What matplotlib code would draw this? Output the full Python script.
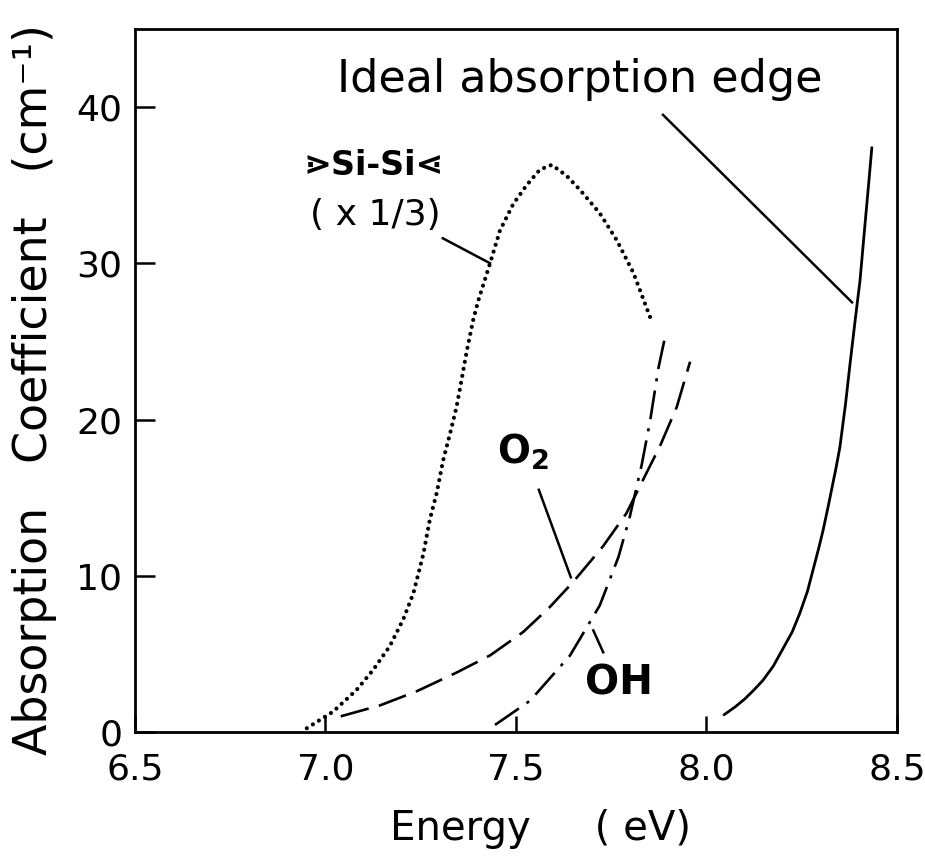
import matplotlib
matplotlib.use("Agg")
import matplotlib.pyplot as plt

plt.rcParams['font.family'] = ['DejaVu Sans']
plt.rcParams['mathtext.fontset'] = 'dejavusans'

# ideal absorption edge (solid)
edge_E = [8.046, 8.075, 8.10, 8.125, 8.148, 8.175, 8.20, 8.225, 8.245, 8.265, 8.28,
          8.295, 8.306, 8.32, 8.33, 8.34, 8.35, 8.365, 8.377, 8.39, 8.403, 8.415,
          8.425, 8.434]
edge_A = [1.1, 1.6, 2.1, 2.7, 3.3, 4.2, 5.3, 6.4, 7.6, 9.0, 10.4,
          11.8, 12.9, 14.5, 15.7, 16.9, 18.2, 21.0, 23.6, 26.3, 28.9, 32.2,
          34.9, 37.4]

# Si-Si band (x1/3), dotted
sisi_E = [6.951, 7.020, 7.082, 7.126, 7.169, 7.204, 7.231, 7.257, 7.274, 7.292,
          7.309, 7.327, 7.344, 7.357, 7.371, 7.388, 7.401, 7.432, 7.458, 7.493,
          7.528, 7.563, 7.594, 7.633, 7.668, 7.720, 7.764, 7.808, 7.856]
sisi_A = [0.24, 1.3, 2.7, 4.0, 5.5, 7.2, 8.9, 11.4, 13.6, 15.3,
          17.4, 19.1, 20.8, 22.5, 24.4, 26.4, 27.6, 30.0, 32.1, 33.8,
          35.0, 36.0, 36.3, 35.6, 34.7, 33.2, 31.5, 29.4, 26.3]

# O2 band, dashed
o2_E = [7.040, 7.143, 7.239, 7.344, 7.432, 7.519, 7.589, 7.650, 7.729, 7.790,
        7.843, 7.878, 7.922, 7.957]
o2_A = [1.0, 1.7, 2.6, 3.8, 4.9, 6.4, 8.0, 9.6, 11.9, 14.0,
        16.6, 18.3, 20.8, 23.7]

# OH band, dash-dot
oh_E = [7.445, 7.537, 7.642, 7.720, 7.769, 7.799, 7.830, 7.852, 7.874, 7.894]
oh_A = [0.45, 2.0, 4.9, 8.1, 11.2, 13.8, 17.1, 19.9, 23.3, 25.6]

# leader lines (E0, A0, E1, A1)
leaders = [
    (7.886, 39.5, 8.382, 27.5),   # ideal edge
    (7.308, 31.6, 7.432, 30.0),   # Si-Si
    (7.560, 15.5, 7.644, 9.9),    # O2
    (7.703, 6.5, 7.729, 5.1),     # OH
]

x_ticks = [6.5, 7.0, 7.5, 8.0, 8.5]
x_labels = ['6.5', '7.0', '7.5', '8.0', '8.5']
y_ticks = [0, 10, 20, 30, 40]

fig = plt.figure(figsize=(9.25, 8.56), dpi=100)
ax = fig.add_axes([0.1459, 0.1449, 0.8238, 0.8213])

ax.plot(edge_E, edge_A, color='k', lw=2.0, solid_capstyle='round', solid_joinstyle='round')
ax.plot(sisi_E, sisi_A, color='k', lw=3.0, linestyle=(0, (0.01, 1.7)),
        dash_capstyle='round')
ax.plot(o2_E, o2_A, color='k', lw=1.9, linestyle=(0, (11, 4)))
ax.plot(oh_E, oh_A, color='k', lw=1.9, linestyle=(0, (11, 3.5, 1.2, 3.5)))

for e0, a0, e1, a1 in leaders:
    ax.plot([e0, e1], [a0, a1], color='k', lw=1.8)

ax.text(7.668, 40.96, "Ideal absorption edge", ha='center', va='baseline', fontsize=32)
ax.text(7.127, 35.65, "⋗Si-Si⋖", ha='center', va='baseline', fontsize=24,
        fontweight='bold')
ax.text(7.13, 32.45, "( x 1/3)", ha='center', va='baseline', fontsize=26)
ax.text(7.450, 17.2, r"$\mathbf{O}_{\mathbf{2}}$", ha='left', va='baseline', fontsize=28)
ax.text(7.771, 2.37, "OH", ha='center', va='baseline', fontsize=29, fontweight='bold')

ax.set_xlim(6.5, 8.5)
ax.set_ylim(0, 45)
ax.set_xticks(x_ticks)
ax.set_xticklabels(x_labels)
ax.set_yticks(y_ticks)
ax.tick_params(axis='both', direction='in', width=1.8, labelsize=26)
ax.tick_params(axis='x', length=11.5, pad=15)
ax.tick_params(axis='y', length=14.5, pad=9)
for s in ax.spines.values():
    s.set_linewidth(2.0)

fig.text(47 / 925, 1 - 390 / 856, "Absorption   Coefficient   (cm⁻¹)", rotation=90,
         rotation_mode='anchor', ha='center', va='baseline', fontsize=33)
fig.text(540 / 925, 16 / 856, "Energy     ( eV)", ha='center', va='baseline', fontsize=29)

fig.savefig("out.png", dpi=100)
